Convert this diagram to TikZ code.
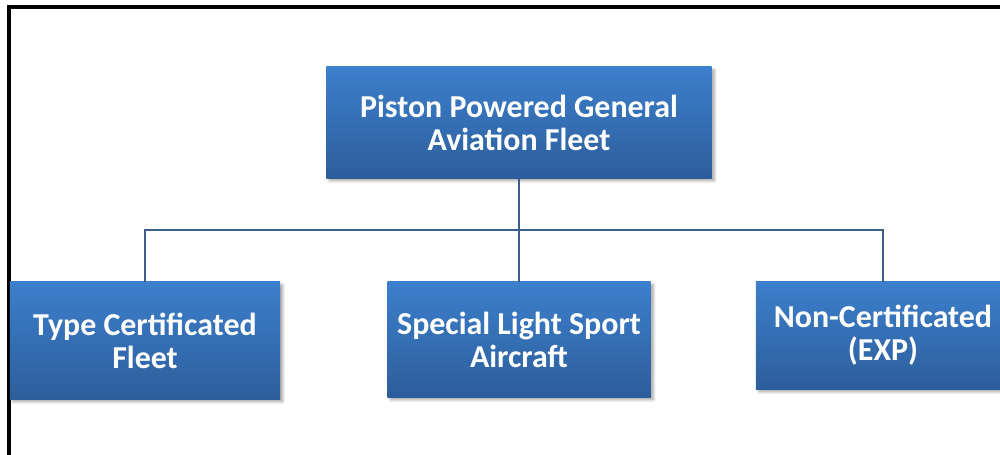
\documentclass[tikz,border=0pt]{standalone}
\usepackage{fontspec}
\setmainfont{Carlito}
\usetikzlibrary{positioning, calc, shadows.blur}

\definecolor{boxtop}{HTML}{3C7FCC}
\definecolor{boxbot}{HTML}{2D5E9B}
\definecolor{linkblue}{HTML}{3D5E88}

\begin{document}
\begin{tikzpicture}[
			x=0.025cm, y=-0.025cm,
			fleet/.style={rectangle, top color=boxtop, bottom color=boxbot, draw=none, align=center, text=white, font=\fontsize{22.7}{23.5}\selectfont\bfseries, inner sep=0pt, blur shadow={shadow xshift=2pt, shadow yshift=-2pt, shadow blur steps=6, shadow opacity=35}},
			link/.style={draw=linkblue, line width=1.6pt}
			]
			\useasboundingbox (0,0) rectangle (1000,454);
			\clip (0,0) rectangle (1000,454);
			
			% frame
			\draw[line width=2.2pt] (9,470) -- (9,7) -- (1020,7);
			
			\node[fleet, minimum width=9.625cm, minimum height=2.775cm] (piston) at (519,122.5) {Piston Powered General\\Aviation Fleet};
			\node[fleet, minimum width=6.75cm, minimum height=2.925cm] (typecert) at (145,340.5) {Type Certificated\\Fleet};
			\node[fleet, minimum width=6.575cm, minimum height=2.875cm] (lsa) at (519,339.5) {Special Light Sport\\Aircraft};
			\node[fleet, minimum width=6.35cm, minimum height=2.675cm] (noncert) at (883,335.5) {Non-Certificated\\(EXP)};
			
			\coordinate (bus) at (519,230);
			
			\draw[link] (piston.south) -- (bus);
			\draw[link] (bus) -| (typecert.north);
			\draw[link] (bus) -- (lsa.north);
			\draw[link] (bus) -| (noncert.north);
		\end{tikzpicture}
\end{document}
